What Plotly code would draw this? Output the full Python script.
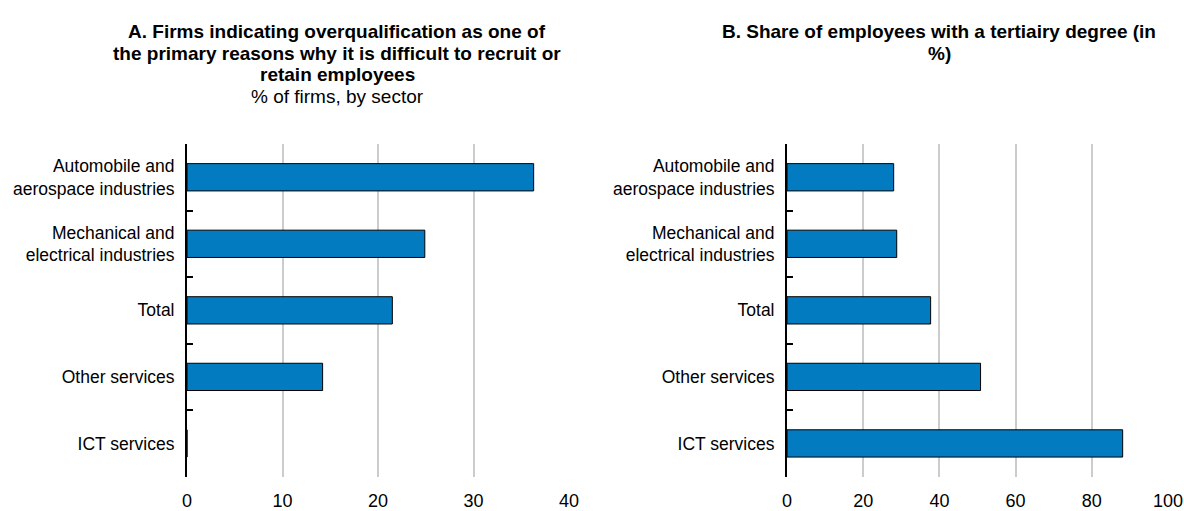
import plotly.graph_objects as go

# Sectors, top to bottom
sectors = [
    "Automobile and<br>aerospace industries",
    "Mechanical and<br>electrical industries",
    "Total",
    "Other services",
    "ICT services",
]

# Panel A: % of firms citing overqualification
overqualification = [36.3, 24.9, 21.5, 14.2, 0.0]
# Panel B: share of employees with a tertiary degree (%)
tertiary_share = [28.0, 28.8, 37.7, 50.8, 88.1]

ticks_a = [0, 10, 20, 30, 40]
ticks_b = [0, 20, 40, 60, 80, 100]

# Title lines (bold flag, text)
title_a_lines = [
    (True, "A. Firms indicating overqualification as one of"),
    (True, "the primary reasons why it is difficult to recruit or"),
    (True, "retain employees"),
    (False, "% of firms, by sector"),
]
title_b_lines = [
    (True, "B. Share of employees with a tertiairy degree (in"),
    (True, "%)"),
]

FONT = "Liberation Sans, Arial, sans-serif"
BAR = "#037bc1"
W, H = 1184, 511

fig = go.Figure()
fig.add_trace(go.Bar(x=overqualification, y=sectors, orientation="h",
                     marker=dict(color=BAR, line=dict(color="black", width=1)),
                     xaxis="x", yaxis="y", showlegend=False))
fig.add_trace(go.Bar(x=tertiary_share, y=sectors, orientation="h",
                     marker=dict(color=BAR, line=dict(color="black", width=1)),
                     xaxis="x2", yaxis="y2", showlegend=False))

ydom = [1 - 476.7 / H, 1 - 144 / H]
xa_dom = [187 / W, 569 / W]
xb_dom = [787 / W, 1168 / W]

common_x = dict(showgrid=True, gridcolor="#cccccc", gridwidth=2, zeroline=False,
                showline=False, ticks="", automargin=False,
                ticklabelstandoff=11,
                tickfont=dict(size=18, color="black"))
common_y = dict(type="category", categoryorder="array",
                categoryarray=sectors[::-1], tickson="boundaries",
                ticks="inside", ticklen=6, tickwidth=2, tickcolor="black",
                showline=True, linecolor="black", linewidth=2,
                showgrid=False, automargin=False,
                tickfont=dict(size=17.5, color="black"),
                ticklabelstandoff=7)

line_y = [31.7, 53.2, 74.7, 96.2]


def title_annotations(lines, cx):
    out = []
    for (bold, txt), yy in zip(lines, line_y):
        out.append(dict(
            text=f"<b>{txt}</b>" if bold else txt,
            x=cx / W, y=1 - yy / H, xref="paper", yref="paper",
            xanchor="center", yanchor="middle", showarrow=False,
            font=dict(size=19, family=FONT, color="black")))
    return out


fig.update_layout(
    width=W, height=H,
    margin=dict(l=0, r=0, t=0, b=0),
    paper_bgcolor="white", plot_bgcolor="white",
    font=dict(family=FONT, color="black"),
    bargap=0.59,
    xaxis=dict(domain=xa_dom, range=[0, 40], tickvals=ticks_a, anchor="y", **common_x),
    yaxis=dict(domain=ydom, anchor="x", **common_y),
    xaxis2=dict(domain=xb_dom, range=[0, 100], tickvals=ticks_b, anchor="y2", **common_x),
    yaxis2=dict(domain=ydom, anchor="x2", **common_y),
    annotations=title_annotations(title_a_lines, 337) + title_annotations(title_b_lines, 939),
)

fig.write_html("out.html")
